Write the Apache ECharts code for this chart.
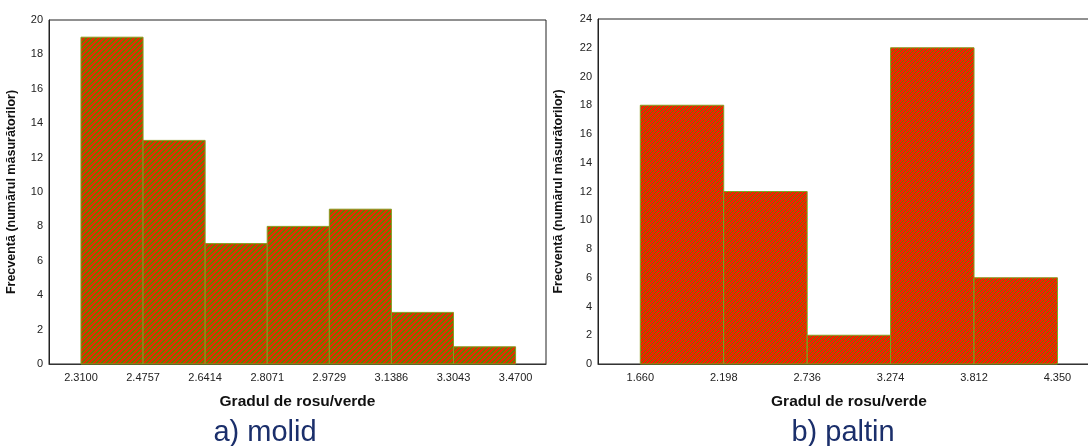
<!DOCTYPE html>
<html>
<head>
<meta charset="utf-8">
<script src="https://cdn.jsdelivr.net/npm/echarts@6/dist/echarts.min.js"></script>
<style>
  html, body { margin: 0; padding: 0; background: #fff; overflow: hidden; }
  #chart { width: 1100px; height: 446px; }
</style>
</head>
<body>
<div id="chart"></div>
<script>
// a) molid
var edgesA = [2.3100, 2.4757, 2.6414, 2.8071, 2.9729, 3.1386, 3.3043, 3.4700];
var countsA = [19, 13, 7, 8, 9, 3, 1];
// b) paltin
var edgesB = [1.660, 2.198, 2.736, 3.274, 3.812, 4.350];
var countsB = [18, 12, 2, 22, 6];

var yNameText = 'Frecventă (numărul măsurătorilor)';
var xNameText = 'Gradul de rosu/verde';
var FONT = 'Arial, "Liberation Sans", sans-serif';

// diagonal red/green hatch, like the original fill
function hatch(period, redW, red, green) {
    var c = document.createElement('canvas');
    c.width = period; c.height = period;
    var ctx = c.getContext('2d');
    for (var x = 0; x < period; x++) {
        for (var y = 0; y < period; y++) {
            ctx.fillStyle = ((x + y) % period) < redW ? red : green;
            ctx.fillRect(x, y, 1, 1);
        }
    }
    return { image: c, repeat: 'repeat' };
}
var fillA = hatch(5, 3, '#e02e00', '#5a8800');
var fillB = hatch(4, 3, '#f81c00', '#5f8c00');

function bins(edges, counts) {
    var out = [];
    for (var i = 0; i < counts.length; i++) out.push([edges[i], edges[i + 1], counts[i]]);
    return out;
}

function makeRender(fill) {
    return function (params, api) {
        var p0 = api.coord([api.value(0), api.value(2)]);
        var p1 = api.coord([api.value(1), 0]);
        return {
            type: 'rect',
            shape: { x: p0[0], y: p0[1], width: p1[0] - p0[0], height: p1[1] - p0[1] },
            style: { fill: fill, stroke: '#8a9a22', lineWidth: 1 }
        };
    };
}

function xAxisFor(idx, edges, digits, padL, padR) {
    var w = edges[1] - edges[0];
    return {
        gridIndex: idx,
        type: 'value',
        min: edges[0] - padL * w,
        max: edges[edges.length - 1] + padR * w,
        name: xNameText,
        nameLocation: 'middle',
        nameGap: 30,
        nameTextStyle: { fontFamily: FONT, fontWeight: 'bold', fontSize: 15.5, color: '#111' },
        axisLine: { show: true, lineStyle: { color: '#333', width: 1 } },
        axisTick: { show: false },
        splitLine: { show: false },
        axisLabel: {
            customValues: edges,
            margin: 8,
            fontFamily: FONT, fontSize: 11, color: '#222',
            formatter: function (v) { return v.toFixed(digits); }
        }
    };
}

function yAxisFor(idx, max, gap) {
    return {
        gridIndex: idx,
        type: 'value',
        min: 0, max: max, interval: 2,
        name: yNameText,
        nameLocation: 'middle',
        nameGap: gap,
        nameTextStyle: { fontFamily: FONT, fontWeight: 'bold', fontSize: 12.5, color: '#111' },
        axisLine: { show: true, lineStyle: { color: '#222' } },
        axisTick: { show: false },
        splitLine: { show: false },
        axisLabel: { margin: 6, fontFamily: FONT, fontSize: 11, color: '#222' }
    };
}

var chart = echarts.init(document.getElementById('chart'));
chart.setOption({
    animation: false,
    backgroundColor: '#fff',
    grid: [
        { left: 49, top: 20, width: 497, bottom: 82, show: true, borderColor: '#222', borderWidth: 1 },
        { left: 598, top: 19, width: 502, bottom: 82, show: true, borderColor: '#222', borderWidth: 1 }
    ],
    xAxis: [
        xAxisFor(0, edgesA, 4, 0.515, 0.49),
        xAxisFor(1, edgesB, 3, 0.507, 0.51)
    ],
    yAxis: [
        yAxisFor(0, 20, 31),
        yAxisFor(1, 24, 33)
    ],
    series: [
        {
            type: 'custom', xAxisIndex: 0, yAxisIndex: 0,
            renderItem: makeRender(fillA),
            encode: { x: [0, 1], y: 2 },
            data: bins(edgesA, countsA)
        },
        {
            type: 'custom', xAxisIndex: 1, yAxisIndex: 1,
            renderItem: makeRender(fillB),
            encode: { x: [0, 1], y: 2 },
            data: bins(edgesB, countsB)
        }
    ],
    graphic: [
        { type: 'text', x: 265, y: 433, style: { text: 'a) molid', fontFamily: FONT, fontSize: 29, fill: '#1b2f6b', textAlign: 'center', textVerticalAlign: 'middle' } },
        { type: 'text', x: 843, y: 433, style: { text: 'b) paltin', fontFamily: FONT, fontSize: 29, fill: '#1b2f6b', textAlign: 'center', textVerticalAlign: 'middle' } }
    ]
});
</script>
</body>
</html>
